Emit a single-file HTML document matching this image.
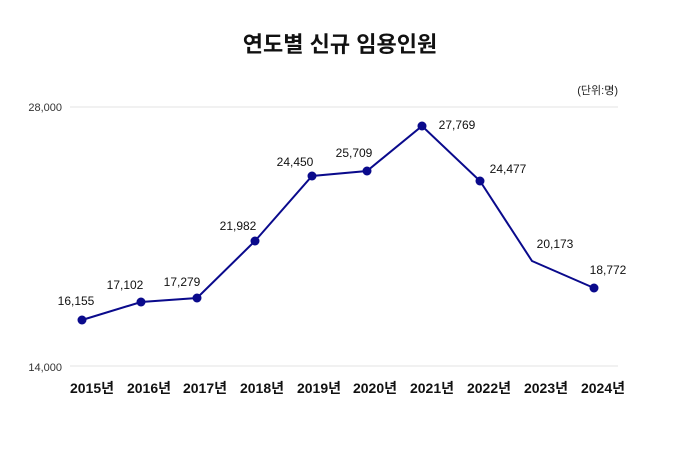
<!DOCTYPE html>
<html><head><meta charset="utf-8"><style>
body{margin:0;background:#fff;width:680px;height:460px;overflow:hidden;font-family:"Liberation Sans","Noto Sans CJK KR",sans-serif}
</style></head><body>
<svg width="680" height="460" xmlns="http://www.w3.org/2000/svg" font-family="Liberation Sans, Noto Sans CJK KR, sans-serif">
<text x="340" y="52" text-anchor="middle" font-size="22" font-weight="bold" fill="#111">연도별 신규 임용인원</text>
<text x="618" y="94" text-anchor="end" font-size="11" fill="#222">(단위:명)</text>
<line x1="70" y1="107" x2="618" y2="107" stroke="#e3e3e3"/>
<line x1="70" y1="366" x2="618" y2="366" stroke="#e3e3e3"/>
<text x="62" y="111" text-anchor="end" font-size="11" fill="#333">28,000</text>
<text x="62" y="371" text-anchor="end" font-size="11" fill="#333">14,000</text>
<polyline fill="none" stroke="#0a0a8c" stroke-width="2" points="82,320 141,302 197,298 255,241 312,176 367,171 422,126 480,181 532,261 594,288"/>
<g fill="#0a0a8c">
<circle cx="82" cy="320" r="4.5"/><circle cx="141" cy="302" r="4.5"/><circle cx="197" cy="298" r="4.5"/><circle cx="255" cy="241" r="4.5"/><circle cx="312" cy="176" r="4.5"/><circle cx="367" cy="171" r="4.5"/><circle cx="422" cy="126" r="4.5"/><circle cx="480" cy="181" r="4.5"/><circle cx="594" cy="288" r="4.5"/>
</g>
<g font-size="12" fill="#111" text-anchor="middle">
<text x="76" y="305">16,155</text><text x="125" y="289">17,102</text><text x="182" y="286">17,279</text><text x="238" y="230">21,982</text><text x="295" y="166">24,450</text><text x="354" y="157">25,709</text><text x="457" y="129">27,769</text><text x="508" y="173">24,477</text><text x="555" y="248">20,173</text><text x="608" y="274">18,772</text>
</g>
<g font-size="14" font-weight="bold" fill="#111" text-anchor="middle">
<text x="92" y="393">2015년</text><text x="149" y="393">2016년</text><text x="205" y="393">2017년</text><text x="262" y="393">2018년</text><text x="319" y="393">2019년</text><text x="375" y="393">2020년</text><text x="432" y="393">2021년</text><text x="489" y="393">2022년</text><text x="546" y="393">2023년</text><text x="603" y="393">2024년</text>
</g>
</svg>
</body></html>
